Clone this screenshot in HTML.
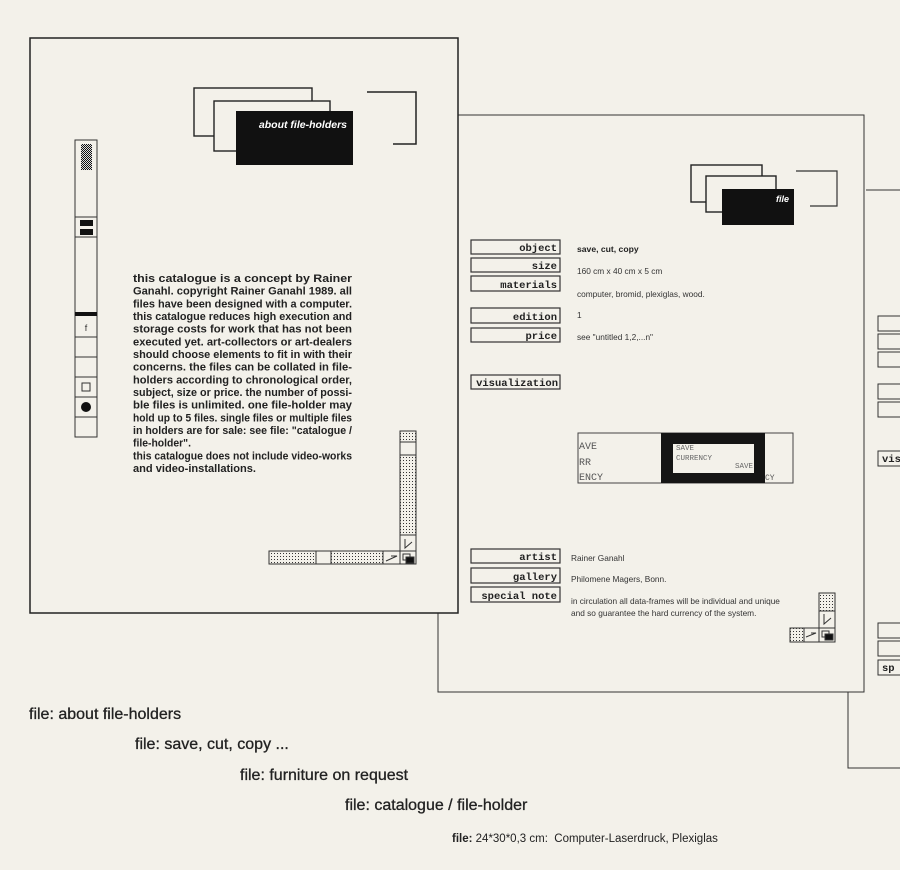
<!DOCTYPE html>
<html><head><meta charset="utf-8"><style>
html,body{margin:0;padding:0;background:#f3f1ea;}
#wrap{position:relative;width:900px;height:870px;overflow:hidden;background:#f3f1ea;}
svg{position:absolute;left:0;top:0;}
.mono{font-family:"Liberation Mono",monospace;font-weight:bold;font-size:10.5px;fill:#222;}
.val{font-family:"Liberation Sans",sans-serif;font-size:8.3px;fill:#333;}
.pt{font-family:"Liberation Sans",sans-serif;font-weight:bold;font-size:11px;fill:#222;}
.bt{position:absolute;font-family:"Liberation Sans",sans-serif;font-size:16px;color:#222;white-space:nowrap;-webkit-text-stroke:0.3px #222;}
</style></head><body><div id="wrap">
<svg width="900" height="870" viewBox="0 0 900 870">
<defs>
<pattern id="dots" width="3" height="3" patternUnits="userSpaceOnUse"><rect width="3" height="3" fill="#f3f1ea"/><rect x="1" y="1" width="1" height="1" fill="#333"/></pattern>
<pattern id="ddots" width="2" height="2" patternUnits="userSpaceOnUse"><rect width="2" height="2" fill="#ddd"/><rect width="1" height="1" fill="#111"/><rect x="1" y="1" width="1" height="1" fill="#111"/></pattern>
</defs>
<g fill="none" stroke="#333" stroke-width="1">
<polyline points="866,190 900,190"/>
<polyline points="848,692 848,768 900,768"/>
<rect x="878" y="316" width="30" height="15"/><rect x="878" y="334" width="30" height="15"/><rect x="878" y="352" width="30" height="15"/>
<rect x="878" y="384" width="30" height="15"/><rect x="878" y="402" width="30" height="15"/>
<rect x="878" y="451" width="30" height="15"/>
<rect x="878" y="623" width="30" height="15"/><rect x="878" y="641" width="30" height="15"/><rect x="878" y="660" width="30" height="15"/>
<rect x="438" y="115" width="426" height="577" fill="#f3f1ea"/>
</g>
<text x="882" y="462" class="mono">vis</text>
<text x="882" y="671" class="mono">sp</text>
<g fill="#f3f1ea" stroke="#222" stroke-width="1.4">
<rect x="691" y="165" width="71" height="37"/>
<rect x="706" y="176" width="70" height="36"/>
</g>
<rect x="722" y="189" width="72" height="36" fill="#111"/>
<text x="789" y="202" text-anchor="end" font-family="Liberation Sans,sans-serif" font-style="italic" font-weight="bold" font-size="9px" fill="#fff">file</text>
<polyline points="796,171 837,171 837,206 810,206" fill="none" stroke="#333" stroke-width="1.2"/>
<g fill="none" stroke="#333" stroke-width="1.2">
<rect x="471" y="240" width="89" height="14"/><rect x="471" y="258" width="89" height="14"/><rect x="471" y="276" width="89" height="15"/>
<rect x="471" y="308" width="89" height="15"/><rect x="471" y="328" width="89" height="14"/>
<rect x="471" y="375" width="89" height="14"/>
<rect x="471" y="549" width="89" height="14"/><rect x="471" y="568" width="89" height="15"/><rect x="471" y="587" width="89" height="15"/>
</g>
<g class="mono" text-anchor="end">
<text x="557" y="251">object</text><text x="557" y="269">size</text><text x="557" y="288">materials</text>
<text x="557" y="320">edition</text><text x="557" y="339">price</text>
<text x="558" y="386">visualization</text>
<text x="557" y="560">artist</text><text x="557" y="580">gallery</text><text x="557" y="599">special note</text>
</g>
<text x="577" y="252" class="val" font-weight="bold" style="font-size:8.6px;fill:#222">save, cut, copy</text>
<text x="577" y="274" class="val">160 cm x 40 cm x 5 cm</text>
<text x="577" y="297" class="val">computer, bromid, plexiglas, wood.</text>
<text x="577" y="318" class="val">1</text>
<text x="577" y="340" class="val">see "untitled 1,2,...n"</text>
<text x="571" y="561" class="val">Rainer Ganahl</text>
<text x="571" y="582" class="val">Philomene Magers, Bonn.</text>
<text x="571" y="604" class="val">in circulation all data-frames will be individual and unique</text>
<text x="571" y="616" class="val">and so guarantee the hard currency of the system.</text>
<rect x="578" y="433" width="215" height="50" fill="#f3f1ea" stroke="#444" stroke-width="1"/>
<rect x="661" y="433" width="104" height="50" fill="#151515"/>
<rect x="673" y="444" width="81" height="29" fill="#f3f1ea"/>
<g font-family="Liberation Mono,monospace" font-size="10px" fill="#555">
<text x="579" y="449">AVE</text><text x="579" y="465">RR</text><text x="579" y="480">ENCY</text>
<text x="765" y="480" font-size="8px">CY</text>
</g>
<g font-family="Liberation Mono,monospace" font-size="7.5px" fill="#666">
<text x="676" y="450">SAVE</text><text x="676" y="460">CURRENCY</text><text x="735" y="468">SAVE</text>
</g>
<g stroke="#333" stroke-width="1">
<rect x="819" y="593" width="16" height="18" fill="url(#dots)"/>
<rect x="819" y="611" width="16" height="17" fill="#f3f1ea"/>
<rect x="790" y="628" width="14" height="14" fill="url(#dots)"/>
<rect x="804" y="628" width="15" height="14" fill="#f3f1ea"/>
<rect x="819" y="628" width="16" height="14" fill="#f3f1ea"/>
<rect x="822" y="631" width="7" height="6" fill="#f3f1ea"/><rect x="825" y="634" width="8" height="6" fill="#111"/>
<polyline points="824,614 824,624 831,618" fill="none"/>
<polyline points="806,637 816,633 811,633" fill="none"/>
</g>
<rect x="30" y="38" width="428" height="575" fill="#f3f1ea" stroke="#222" stroke-width="1.5"/>
<g fill="#f3f1ea" stroke="#222" stroke-width="1.4">
<rect x="194" y="88" width="118" height="48"/>
<rect x="214" y="101" width="116" height="50"/>
</g>
<rect x="236" y="111" width="117" height="54" fill="#111"/>
<text x="347" y="128" text-anchor="end" font-family="Liberation Sans,sans-serif" font-style="italic" font-weight="bold" font-size="10.5px" fill="#fff">about file-holders</text>
<polyline points="367,92 416,92 416,144 393,144" fill="none" stroke="#222" stroke-width="1.5"/>
<g stroke="#333" stroke-width="1" fill="none">
<rect x="75" y="140" width="22" height="297"/>
<line x1="75" y1="217" x2="97" y2="217"/>
<line x1="75" y1="237" x2="97" y2="237"/>
<line x1="75" y1="337" x2="97" y2="337"/>
<line x1="75" y1="357" x2="97" y2="357"/>
<line x1="75" y1="377" x2="97" y2="377"/>
<line x1="75" y1="397" x2="97" y2="397"/>
<line x1="75" y1="417" x2="97" y2="417"/>
<rect x="82" y="383" width="8" height="8" fill="#f3f1ea"/>
</g>
<rect x="81" y="144" width="11" height="26" fill="url(#ddots)"/>
<rect x="80" y="220" width="13" height="6" fill="#111"/>
<rect x="80" y="229" width="13" height="6" fill="#111"/>
<rect x="75" y="312" width="22" height="4" fill="#111"/>
<text x="86" y="331" text-anchor="middle" font-family="Liberation Sans,sans-serif" font-size="9px" fill="#333">f</text>
<circle cx="86" cy="407" r="5" fill="#111"/>
<g class="pt">
<text x="133" y="282" textLength="219" lengthAdjust="spacingAndGlyphs">this catalogue is a concept by Rainer</text>
<text x="133" y="294.7" textLength="219" lengthAdjust="spacingAndGlyphs">Ganahl. copyright Rainer Ganahl 1989. all</text>
<text x="133" y="307.3" textLength="219" lengthAdjust="spacingAndGlyphs">files have been designed with a computer.</text>
<text x="133" y="320" textLength="219" lengthAdjust="spacingAndGlyphs">this catalogue reduces high execution and</text>
<text x="133" y="332.7" textLength="219" lengthAdjust="spacingAndGlyphs">storage costs for work that has not been</text>
<text x="133" y="345.3" textLength="219" lengthAdjust="spacingAndGlyphs">executed yet. art-collectors or art-dealers</text>
<text x="133" y="358" textLength="219" lengthAdjust="spacingAndGlyphs">should choose elements to fit in with their</text>
<text x="133" y="370.7" textLength="219" lengthAdjust="spacingAndGlyphs">concerns. the files can be collated in file-</text>
<text x="133" y="383.3" textLength="219" lengthAdjust="spacingAndGlyphs">holders according to chronological order,</text>
<text x="133" y="396" textLength="219" lengthAdjust="spacingAndGlyphs">subject, size or price. the number of possi-</text>
<text x="133" y="408.7" textLength="219" lengthAdjust="spacingAndGlyphs">ble files is unlimited. one file-holder may</text>
<text x="133" y="421.3" textLength="219" lengthAdjust="spacingAndGlyphs">hold up to 5 files. single files or multiple files</text>
<text x="133" y="434" textLength="219" lengthAdjust="spacingAndGlyphs">in holders are for sale: see file: "catalogue /</text>
<text x="133" y="446.7" textLength="58" lengthAdjust="spacingAndGlyphs">file-holder".</text>
<text x="133" y="459.3" textLength="219" lengthAdjust="spacingAndGlyphs">this catalogue does not include video-works</text>
<text x="133" y="472" textLength="123" lengthAdjust="spacingAndGlyphs">and video-installations.</text>
</g>
<g stroke="#333" stroke-width="1">
<rect x="400" y="431" width="16" height="11" fill="url(#dots)"/>
<rect x="400" y="442" width="16" height="13" fill="#f3f1ea"/>
<rect x="400" y="455" width="16" height="80" fill="url(#dots)"/>
<rect x="400" y="535" width="16" height="16" fill="#f3f1ea"/>
<rect x="269" y="551" width="47" height="13" fill="url(#dots)"/>
<rect x="316" y="551" width="15" height="13" fill="#f3f1ea"/>
<rect x="331" y="551" width="52" height="13" fill="url(#dots)"/>
<rect x="383" y="551" width="17" height="13" fill="#f3f1ea"/>
<rect x="400" y="551" width="16" height="13" fill="#f3f1ea"/>
<rect x="403" y="554" width="7" height="6" fill="#f3f1ea"/><rect x="406" y="557" width="8" height="6" fill="#111"/>
<polyline points="405,539 405,548 412,542" fill="none"/>
<polyline points="386,561 397,556 391,556" fill="none"/>
</g>
</svg>
<div class="bt" style="left:29px;top:706px;">file: about file-holders</div>
<div class="bt" style="left:135px;top:736px;">file: save, cut, copy ...</div>
<div class="bt" style="left:240px;top:767px;">file: furniture on request</div>
<div class="bt" style="left:345px;top:797px;">file: catalogue / file-holder</div>
<div class="bt" style="left:452px;top:833px;font-size:11.5px;-webkit-text-stroke:0;"><b>file:</b> 24*30*0,3 cm:&nbsp; Computer-Laserdruck, Plexiglas</div>
</div></body></html>
